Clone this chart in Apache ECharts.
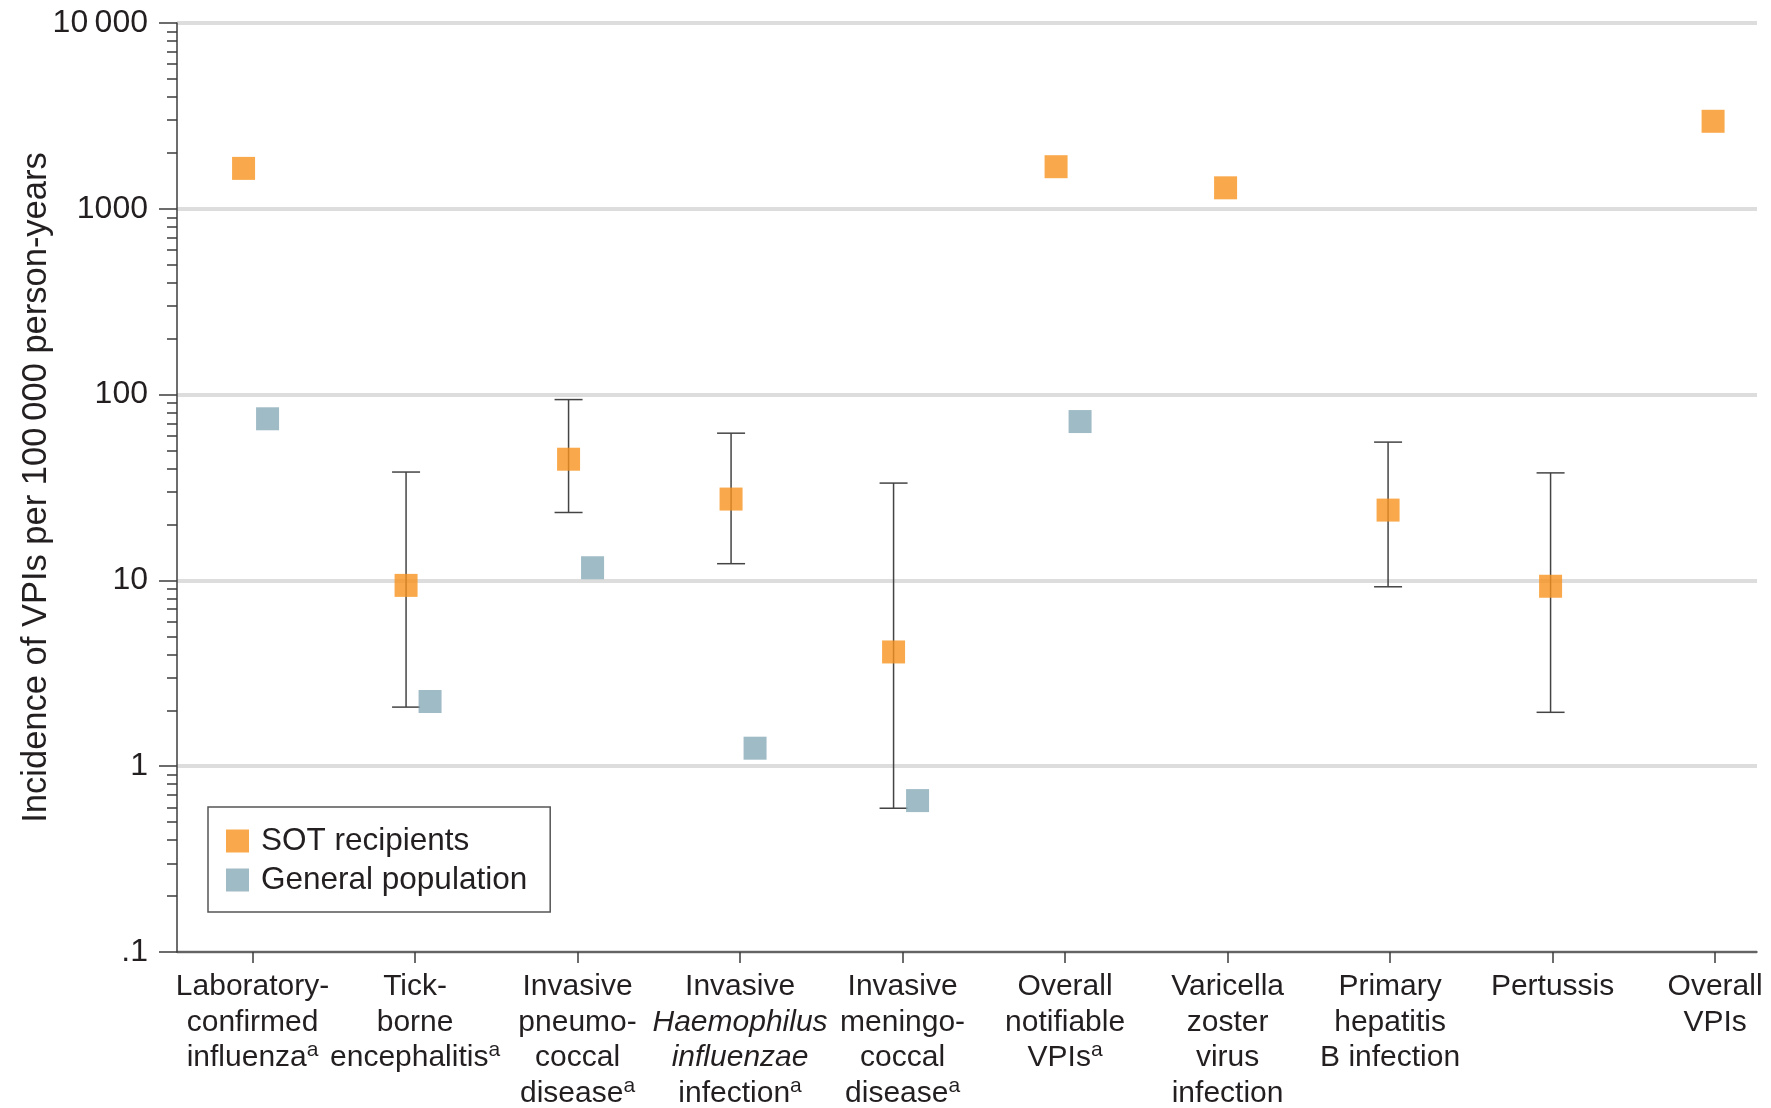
<!DOCTYPE html>
<html>
<head>
<meta charset="utf-8">
<title>Incidence of vaccine-preventable infections</title>
<script src="https://cdn.jsdelivr.net/npm/echarts@6/dist/echarts.min.js"></script>
<style>
  html, body { margin: 0; padding: 0; background: #ffffff; }
  #chart { width: 1771px; height: 1108px; }
</style>
</head>
<body>
<div id="chart"></div>
<script>
// Categories (one per x position), multi-line as printed under the axis
const categories = [
  'Laboratory-\nconfirmed\ninfluenza',
  'Tick-\nborne\nencephalitis',
  'Invasive\npneumo-\ncoccal\ndisease',
  'Invasive\nHaemophilus\ninfluenzae\ninfection',
  'Invasive\nmeningo-\ncoccal\ndisease',
  'Overall\nnotifiable\nVPIs',
  'Varicella\nzoster\nvirus\ninfection',
  'Primary\nhepatitis\nB infection',
  'Pertussis',
  'Overall\nVPIs'
];
// Which categories carry footnote "a"
const footnoted = [true, true, true, true, true, true, false, false, false, false];
// Words set in italics (species name)
const italicWords = ['Haemophilus', 'influenzae'];

// Incidence per 100 000 person-years
const sotRate     = [1650, 9.4, 44.9, 27.4, 4.12, 1685, 1297, 23.9, 9.3, 2958];
const sotLower    = [null, 2.08, 23.2, 12.3, 0.594, null, null, 9.24, 1.95, null];
const sotUpper    = [null, 38.3, 94, 62, 33.4, null, null, 55.5, 37.9, null];
const generalRate = [74.1, 2.23, 11.7, 1.25, 0.653, 71.6, null, null, null, null];

// Y axis tick labels (log scale, one per decade)
const yTickValues = [0.1, 1, 10, 100, 1000, 10000];
const yTickLabels = ['.1', '1', '10', '100', '1000', '10\u2009000'];

const seriesNames = ['SOT recipients', 'General population'];

// ---- styling ----
const ORANGE = '#F7941E';
const BLUE = '#87AAB8';
const INK = '#231f20';
const AXIS = '#3c3c3c';
const GRID = '#dddddd';
const FONT = '"Liberation Sans", Arial, sans-serif';
const MARK = 23;          // square marker size, px
const CAP = 28;           // error-bar cap width, px
const SHIFT_PAIR = -9;    // SOT marker shift when paired with a general-population marker
const SHIFT_SINGLE = -2;  // SOT marker shift when alone
const SHIFT_GEN = 15;     // general-population marker shift

const catIndex = categories.map((_, i) => i);
const sotShift = i => (generalRate[i] != null ? SHIFT_PAIR : SHIFT_SINGLE);

// minor tick positions at 2..9 of every decade
const minorTicks = [];
for (let d = -1; d < 4; d++) {
  for (let k = 2; k <= 9; k++) minorTicks.push(+(k * Math.pow(10, d)).toPrecision(3));
}

function categoryLabel(i) {
  if (i < 0 || i >= categories.length) return '';
  const lines = categories[i].split('\n').map(line => {
    return line.split(' ').map(w => italicWords.includes(w) ? '{i|' + w + '}' : w).join(' ');
  });
  if (footnoted[i]) lines[lines.length - 1] += '{a|a}';
  return lines.join('\n');
}

const sotData = sotRate.map((v, i) => ({ value: [i, v], symbolOffset: [sotShift(i), 0] }));
const genData = generalRate.map((v, i) => (v == null ? null : [i, v])).filter(d => d);
const ciData = sotRate.map((v, i) => (sotLower[i] == null ? null : [i, sotLower[i], sotUpper[i]])).filter(d => d);

const chart = echarts.init(document.getElementById('chart'), null, { renderer: 'canvas' });

const lineStyle = { color: AXIS, width: 1.5 };

chart.setOption({
  animation: false,
  backgroundColor: '#ffffff',
  textStyle: { fontFamily: FONT, color: INK },
  grid: { left: 177, right: 14, top: 23, bottom: 156, containLabel: false, outerBoundsMode: 'none' },
  legend: {
    orient: 'vertical',
    left: 208,
    top: 807,
    data: seriesNames,
    icon: 'rect',
    itemWidth: MARK,
    itemHeight: MARK,
    itemGap: 7,
    padding: [18, 23, 16, 18],
    borderColor: '#555555',
    borderWidth: 1.5,
    selectedMode: false,
    textStyle: { fontFamily: FONT, fontSize: 31.5, color: INK, padding: [0, 0, 0, 7] }
  },
  xAxis: {
    type: 'value',
    min: -0.465,
    max: 9.258,
    axisLine: { show: true, onZero: false, lineStyle: lineStyle },
    axisTick: { show: true, customValues: catIndex, length: 11, lineStyle: lineStyle },
    splitLine: { show: false },
    axisLabel: {
      customValues: catIndex,
      margin: 17,
      fontFamily: FONT,
      fontSize: 30,
      lineHeight: 35.5,
      color: INK,
      align: 'center',
      formatter: v => categoryLabel(Math.round(v)),
      rich: {
        i: { fontStyle: 'italic', fontFamily: FONT, fontSize: 30, lineHeight: 35.5, color: INK },
        a: { fontFamily: FONT, fontSize: 21, lineHeight: 31, verticalAlign: 'top', color: INK }
      }
    }
  },
  yAxis: [
    {
      type: 'log',
      logBase: 10,
      min: 0.1,
      max: 10000,
      position: 'left',
      name: 'Incidence of VPIs per 100\u2009000 person-years',
      nameLocation: 'middle',
      nameGap: 123,
      nameMoveOverlap: false,
      nameTextStyle: { fontFamily: FONT, fontSize: 34.5, color: INK },
      axisLine: { show: true, onZero: false, lineStyle: lineStyle },
      axisTick: { show: true, length: 18, lineStyle: lineStyle },
      axisLabel: {
        margin: 29,
        fontFamily: FONT,
        fontSize: 32,
        color: INK,
        formatter: v => {
          const k = yTickValues.findIndex(t => Math.abs(Math.log10(t) - Math.log10(v)) < 1e-6);
          return k >= 0 ? yTickLabels[k] : '';
        }
      },
      splitLine: { show: true, lineStyle: { color: GRID, width: 4 } }
    },
    {
      type: 'log',
      logBase: 10,
      min: 0.1,
      max: 10000,
      position: 'left',
      axisLine: { show: false, onZero: false },
      axisTick: { show: true, length: 10, customValues: minorTicks, lineStyle: lineStyle },
      axisLabel: { show: false },
      splitLine: { show: false }
    }
  ],
  series: [
    {
      type: 'custom',
      name: 'SOT 95% CI',
      silent: true,
      z: 1,
      data: ciData,
      encode: { x: 0, y: [1, 2] },
      renderItem: function (params, api) {
        const i = api.value(0);
        const hi = api.coord([i, api.value(2)]);
        const lo = api.coord([i, api.value(1)]);
        const x = hi[0] + sotShift(i);
        const st = { stroke: '#444444', lineWidth: 1.5 };
        return {
          type: 'group',
          children: [
            { type: 'line', shape: { x1: x, y1: hi[1], x2: x, y2: lo[1] }, style: st },
            { type: 'line', shape: { x1: x - CAP / 2, y1: hi[1], x2: x + CAP / 2, y2: hi[1] }, style: st },
            { type: 'line', shape: { x1: x - CAP / 2, y1: lo[1], x2: x + CAP / 2, y2: lo[1] }, style: st }
          ]
        };
      }
    },
    {
      type: 'scatter',
      name: seriesNames[0],
      symbol: 'rect',
      symbolSize: MARK,
      itemStyle: { color: ORANGE },
      z: 3,
      data: sotData
    },
    {
      type: 'scatter',
      name: seriesNames[1],
      symbol: 'rect',
      symbolSize: MARK,
      symbolOffset: [SHIFT_GEN, 0],
      itemStyle: { color: BLUE },
      z: 3,
      data: genData
    }
  ]
});
</script>
</body>
</html>
